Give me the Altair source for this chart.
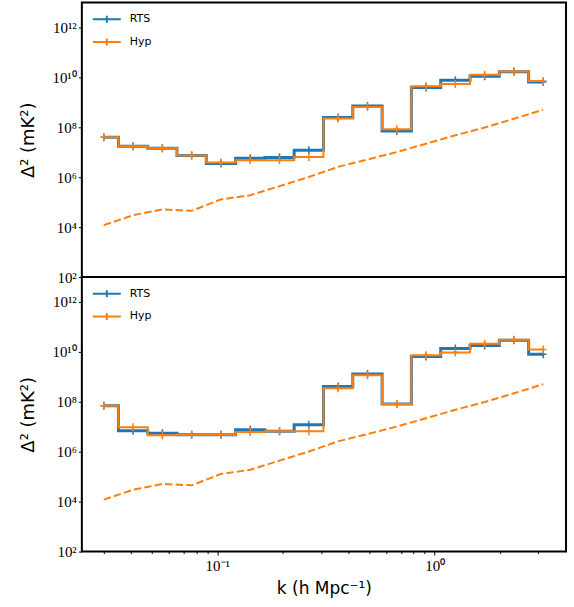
import altair as alt
import pandas as pd

# k bins (h Mpc^-1)
k = [0.03003, 0.04095, 0.05585, 0.07616, 0.1039, 0.1417, 0.1932, 0.2636,
     0.3595, 0.4906, 0.6689, 0.9126, 1.245, 1.698, 2.316, 3.159]

# top panel
top_rts = [4.0e7, 1.74e7, 1.45e7, 7.4e6, 3.55e6, 5.75e6, 6.2e6, 1.2e7,
           2.45e8, 7.1e8, 7.1e7, 3.9e9, 7.6e9, 1.12e10, 1.7e10, 6.5e9]
top_hyp = [4.0e7, 1.74e7, 1.45e7, 7.4e6, 3.9e6, 4.8e6, 4.8e6, 6.5e6,
           2.25e8, 6.5e8, 8.3e7, 4.4e9, 5.4e9, 1.29e10, 1.74e10, 7.1e9]
# bottom panel
bot_rts = [6.9e7, 6.9e6, 5.5e6, 4.8e6, 4.8e6, 7.6e6, 6.6e6, 1.2e7,
           4.1e8, 1.29e9, 8.1e7, 6.6e9, 1.38e10, 1.82e10, 2.95e10, 8.1e9]
bot_hyp = [6.9e7, 9.5e6, 4.6e6, 4.8e6, 4.8e6, 6.2e6, 6.6e6, 6.6e6,
           3.5e8, 1.17e9, 8.1e7, 7.4e9, 9.5e9, 2.1e10, 3.1e10, 1.26e10]
# noise level (dashed)
noise = [1.2e4, 3.0e4, 5.1e4, 4.5e4, 1.29e5, 1.9e5, 4.4e5, 1.02e6,
         2.6e6, 5.1e6, 1.02e7, 2.2e7, 4.8e7, 9.8e7, 2.2e8, 5.1e8]

series = ["RTS", "Hyp"]
colors = ["#1f77b4", "#ff7f0e"]

y_ticks = [1e2, 1e4, 1e6, 1e8, 1e10, 1e12]
x_ticks = [0.03, 0.04, 0.05, 0.06, 0.07, 0.08, 0.09, 0.1,
           0.2, 0.3, 0.4, 0.5, 0.6, 0.7, 0.8, 0.9, 1, 2, 3]

W, H = 485, 275

xscale = alt.Scale(type="log", domain=[0.0238, 4.02], nice=False)
yscale = alt.Scale(type="log", domain=[1e2, 1e13], nice=False)
cscale = alt.Scale(domain=series, range=colors)

legend = alt.Legend(
    title=None, orient="none", legendX=19, legendY=10.8, padding=0,
    symbolType="M-2.8,0L2.8,0M0,-0.7L0,0.7", symbolSize=100,
    symbolStrokeWidth=2, symbolOpacity=1,
    labelFont="DejaVu Sans", labelFontSize=11, labelColor="black",
    labelOffset=17, rowPadding=6.7,
)

yaxis = alt.Axis(
    values=y_ticks,
    labelExpr="datum.value==1e2?'10²':datum.value==1e4?'10⁴':datum.value==1e6?'10⁶':"
              "datum.value==1e8?'10⁸':datum.value==1e10?'10¹⁰':'10¹²'",
    grid=False, domain=False, tickSize=3.5, tickWidth=1, tickColor="black",
    labelFont="Liberation Serif", labelFontSize=15, labelColor="black",
    labelPadding=2, labelFlush=False, labelOverlap=False, labelBound=False,
    title="Δ² (mK²)", titleFont="DejaVu Sans", titleFontSize=18,
    titleFontWeight="normal", titleColor="black", titleAngle=-90,
    titleX=-53, titleY=H / 2, titleAlign="center", titleBaseline="middle",
)

xaxis_bottom = alt.Axis(
    values=x_ticks,
    labelExpr="datum.value==0.1?'10⁻¹':datum.value==1?'10⁰':''",
    grid=False, domain=False, tickColor="black", tickWidth=1,
    tickSize={"condition": {"test": "datum.value==0.1 || datum.value==1", "value": 3.5}, "value": 2},
    labelFont="Liberation Serif", labelFontSize=15, labelColor="black",
    labelPadding=3, labelFlush=False, labelOverlap=False, labelBound=False,
    title="k (h Mpc⁻¹)", titleFont="DejaVu Sans", titleFontSize=17,
    titleFontWeight="normal", titleColor="black",
    titleX=W / 2, titleY=42, titleAlign="center", titleBaseline="alphabetic",
)


def panel(rts, hyp, xaxis):
    df_rts = pd.DataFrame({"k": k, "value": rts, "series": "RTS"})
    df_hyp = pd.DataFrame({"k": k, "value": hyp, "series": "Hyp"})
    df_noise = pd.DataFrame({"k": k, "value": noise})

    def enc(chart, with_color=True):
        e = dict(
            x=alt.X("k:Q", scale=xscale, axis=xaxis),
            y=alt.Y("value:Q", scale=yscale, axis=yaxis),
        )
        if with_color:
            e["color"] = alt.Color("series:N", scale=cscale, legend=legend)
        return chart.encode(**e)

    layers = []
    for df, sw in [(df_rts, 3), (df_hyp, 2)]:
        base = alt.Chart(df)
        layers.append(enc(base.mark_line(interpolate="step", strokeWidth=sw)))
        layers.append(enc(base.mark_point(
            shape="M-0.8,0L0.8,0M0,-1L0,1", filled=False, size=64,
            strokeWidth=1.5, opacity=1)))
    layers.append(enc(alt.Chart(df_noise).mark_line(
        color="#ff7f0e", strokeWidth=2, strokeDash=[7.4, 3.2]), with_color=False))
    return alt.layer(*layers).properties(width=W, height=H)


top = panel(top_rts, top_hyp, None)
bottom = panel(bot_rts, bot_hyp, xaxis_bottom)

chart = (
    alt.vconcat(top, bottom, spacing=0, bounds="flush")
    .resolve_legend(color="independent")
    .resolve_scale(color="independent")
    .properties(
        autosize=alt.AutoSizeParams(type="pad"),
        padding={"left": 19, "top": 1, "right": 7, "bottom": 5},
        background="white",
    )
    .configure_view(stroke="black", strokeWidth=2)
)

chart.save("out.html", embed_options={"renderer": "svg", "actions": False})
